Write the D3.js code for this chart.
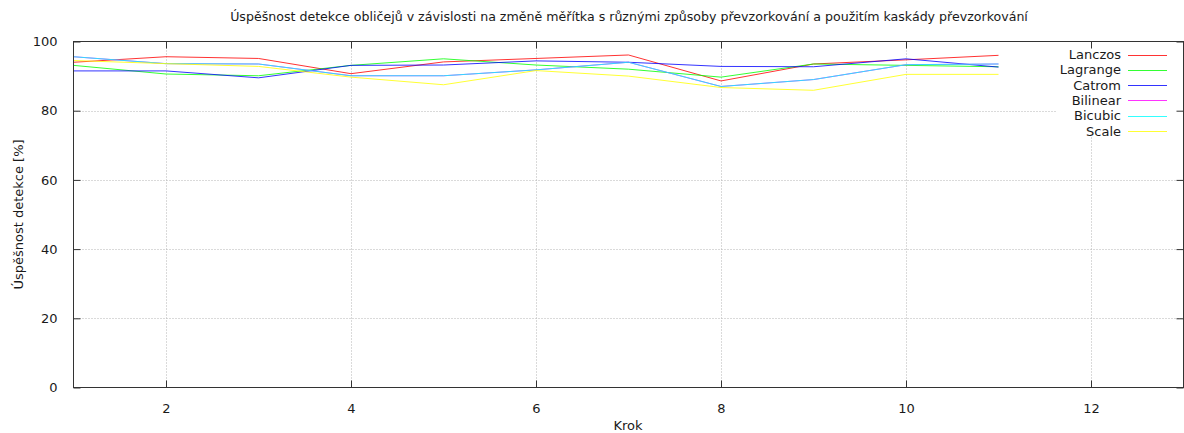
<!DOCTYPE html>
<html>
<head>
<meta charset="utf-8">
<script src="https://cdn.jsdelivr.net/npm/d3@7"></script>
<style>
  html, body { margin: 0; padding: 0; background: #fff; }
  svg { display: block; font-family: "DejaVu Sans", sans-serif; }
</style>
</head>
<body>
<svg id="chart" width="1184" height="433"></svg>
<script>
const title = "Úspěšnost detekce obličejů v závislosti na změně měřítka s různými způsoby převzorkování a použitím kaskády převzorkování";
const xLabel = "Krok";
const yLabel = "Úspěšnost detekce [%]";
const steps = [1, 2, 3, 4, 5, 6, 7, 8, 9, 10, 11];
const xTicks = [2, 4, 6, 8, 10, 12];
const yTicks = [0, 20, 40, 60, 80, 100];
const seriesNames = ["Lanczos", "Lagrange", "Catrom", "Bilinear", "Bicubic", "Scale"];
const seriesColors = ["#ff0000", "#00ff00", "#0000ff", "#ff00ff", "#00ffff", "#ffff00"];
const lanczos  = [94.0, 95.6, 95.1, 90.7, 94.1, 95.1, 96.1, 88.6, 93.5, 94.7, 96.0];
const lagrange = [93.1, 90.6, 90.1, 93.1, 95.0, 93.2, 92.0, 89.7, 93.5, 93.1, 92.7];
const catrom   = [91.5, 91.5, 89.5, 93.1, 93.2, 94.4, 94.0, 92.8, 92.7, 95.0, 92.6];
const bilinear = [95.6, 93.6, 93.5, 90.1, 90.1, 91.8, 94.0, 87.0, 89.0, 93.3, 93.5];
const bicubic  = [95.6, 93.6, 93.5, 90.1, 90.1, 91.8, 94.0, 87.0, 89.0, 93.3, 93.5];
const scaleS   = [94.5, 93.6, 92.8, 89.7, 87.5, 91.6, 90.0, 86.7, 85.9, 90.5, 90.5];
const seriesValues = [lanczos, lagrange, catrom, bilinear, bicubic, scaleS];

const svg = d3.select("#chart");
const L = 73.5, R = 1183.5, T = 41.5, B = 387.5;
const x = d3.scaleLinear().domain([1, 13]).range([L, R]);
const y = d3.scaleLinear().domain([0, 100]).range([B, T]);
const fs = 13;

// grid
const grid = svg.append("g").attr("stroke", "#b4b4b4").attr("stroke-width", 1).attr("stroke-dasharray", "1,2");
yTicks.filter(v => v > 0 && v < 100).forEach(v => {
  grid.append("line").attr("x1", L).attr("x2", R).attr("y1", Math.round(y(v)) + 0.5).attr("y2", Math.round(y(v)) + 0.5);
});
xTicks.forEach(v => {
  grid.append("line").attr("y1", T).attr("y2", B).attr("x1", Math.round(x(v)) + 0.5).attr("x2", Math.round(x(v)) + 0.5);
});

// legend background (opaque key box)
svg.append("rect").attr("x", 1057).attr("y", T).attr("width", R - 1057).attr("height", 137 - T).attr("fill", "#fff");

// axes via d3
const axB = d3.axisBottom(x).tickValues(xTicks).tickSize(-7).tickPadding(16).tickFormat(d3.format("d"));
const axL = d3.axisLeft(y).tickValues(yTicks).tickSize(-7).tickPadding(16).tickFormat(d3.format("d"));
const axT = d3.axisTop(x).tickValues(xTicks).tickSize(-7).tickFormat("");
const axR = d3.axisRight(y).tickValues(yTicks).tickSize(-7).tickFormat("");
function styleAxis(g) {
  g.select(".domain").remove();
  g.selectAll(".tick line").attr("stroke", "#333");
  g.selectAll(".tick text").attr("fill", "#1a1a1a").attr("font-size", fs).attr("font-family", "DejaVu Sans");
}
svg.append("g").attr("transform", `translate(0,${B})`).call(axB).call(styleAxis);
svg.append("g").attr("transform", `translate(${L},0)`).call(axL).call(styleAxis);
svg.append("g").attr("transform", `translate(0,${T})`).call(axT).call(styleAxis);
svg.append("g").attr("transform", `translate(${R},0)`).call(axR).call(styleAxis);

// lines
const line = d3.line().x((d, i) => x(steps[i])).y(d => y(d));
seriesValues.forEach((vals, k) => {
  svg.append("path").datum(vals).attr("d", line).attr("fill", "none")
    .attr("stroke", seriesColors[k]).attr("stroke-width", 1).attr("stroke-opacity", 0.8).attr("stroke-linejoin", "round");
});

// border
svg.append("rect").attr("x", L).attr("y", T).attr("width", R - L).attr("height", B - T)
  .attr("fill", "none").attr("stroke", "#333").attr("stroke-width", 1);

// legend
const lg = svg.append("g");
seriesNames.forEach((n, k) => {
  const yy = 54.5 + k * 15.3;
  lg.append("text").attr("x", 1121).attr("y", yy).attr("dy", "0.35em").attr("text-anchor", "end")
    .attr("font-size", fs).attr("fill", "#1a1a1a").text(n);
  lg.append("line").attr("x1", 1128).attr("x2", 1167).attr("y1", Math.round(yy) + 0.5).attr("y2", Math.round(yy) + 0.5)
    .attr("stroke", seriesColors[k]).attr("stroke-width", 1).attr("stroke-opacity", 0.8);
});

// titles
svg.append("text").attr("x", 629).attr("y", 17).attr("dy", "0.35em").attr("text-anchor", "middle")
  .attr("font-size", 12.6).attr("fill", "#1a1a1a").text(title);
svg.append("text").attr("x", 628).attr("y", 425).attr("dy", "0.35em").attr("text-anchor", "middle")
  .attr("font-size", fs).attr("fill", "#1a1a1a").text(xLabel);
svg.append("text").attr("transform", `translate(18,${(T + B) / 2}) rotate(-90)`).attr("dy", "0.35em")
  .attr("text-anchor", "middle").attr("font-size", fs).attr("fill", "#1a1a1a").text(yLabel);
</script>
</body>
</html>
